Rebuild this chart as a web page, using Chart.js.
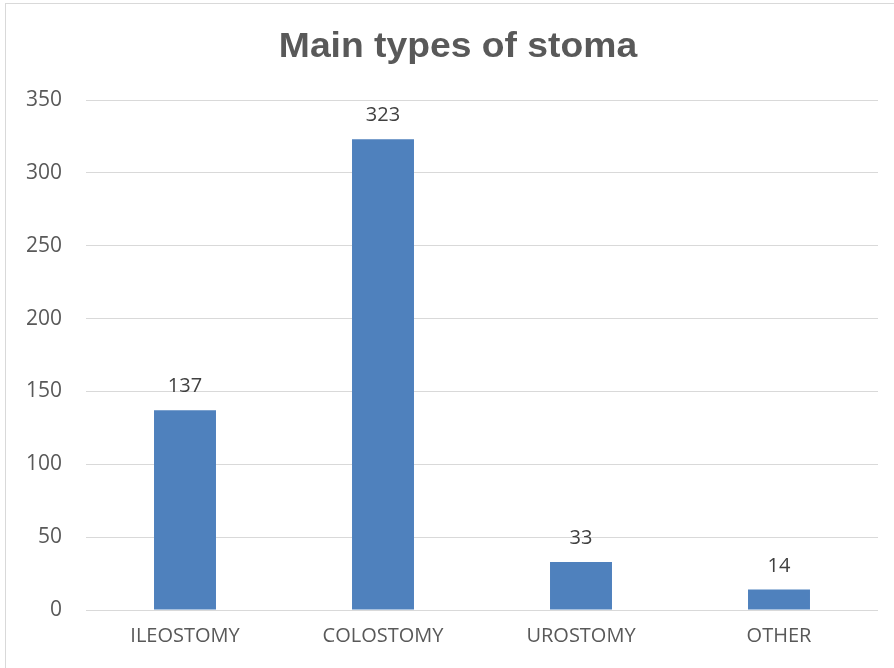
<!DOCTYPE html>
<html>
<head>
<meta charset="utf-8">
<script src="https://cdn.jsdelivr.net/npm/chart.js@4/dist/chart.umd.min.js"></script>
<style>
  html, body { margin: 0; padding: 0; background: #ffffff; }
  #wrap { width: 894px; height: 668px; position: relative; }
</style>
</head>
<body>
<div id="wrap"><canvas id="c" width="894" height="668"></canvas></div>
<script>
// Stoma counts by type
const categories = ['ILEOSTOMY', 'COLOSTOMY', 'UROSTOMY', 'OTHER'];
const counts = [137, 323, 33, 14];
const yTicks = [0, 50, 100, 150, 200, 250, 300, 350];
const chartTitle = 'Main types of stoma';

const FONT = '"Open Sans", "Noto Sans", sans-serif';

// Frame around the chart + title
const framePlugin = {
  id: 'frame',
  beforeDraw(chart) {
    const ctx = chart.ctx;
    ctx.save();
    ctx.fillStyle = '#ffffff';
    ctx.fillRect(0, 0, chart.width, chart.height);
    ctx.strokeStyle = '#D9D9D9';
    ctx.lineWidth = 1;
    ctx.strokeRect(5.5, 3.5, chart.width + 20, chart.height + 20);
    ctx.fillStyle = '#595959';
    ctx.font = 'bold 35px "Liberation Sans", Arial, sans-serif';
    ctx.textAlign = 'center';
    ctx.textBaseline = 'alphabetic';
    ctx.translate(458, 56.5);
    ctx.scale(1.065, 1);
    ctx.fillText(chartTitle, 0, 0);
    ctx.restore();
  }
};

// Value labels above each bar
const valueLabels = {
  id: 'valueLabels',
  afterDatasetsDraw(chart) {
    const ctx = chart.ctx;
    const meta = chart.getDatasetMeta(0);
    ctx.save();
    ctx.fillStyle = '#404040';
    ctx.font = '20px ' + FONT;
    ctx.textAlign = 'center';
    ctx.textBaseline = 'alphabetic';
    meta.data.forEach((bar, i) => {
      ctx.fillText(String(counts[i]), bar.x, bar.y - 18);
    });
    ctx.restore();
  }
};

new Chart(document.getElementById('c'), {
  type: 'bar',
  data: {
    labels: categories,
    datasets: [{
      data: counts,
      backgroundColor: '#4F81BD',
      borderWidth: 0,
      categoryPercentage: 1,
      barPercentage: 0.313
    }]
  },
  options: {
    responsive: false,
    animation: false,
    devicePixelRatio: 1,
    layout: { padding: { top: 100, right: 16, bottom: 0, left: 0 } },
    plugins: {
      legend: { display: false },
      title: { display: false },
      tooltip: { enabled: false }
    },
    scales: {
      x: {
        grid: { display: false, drawTicks: false },
        border: { display: false },
        ticks: { color: '#595959', font: { family: FONT, size: 20 }, padding: 14, maxRotation: 0 },
        afterFit(scale) { scale.height = 58; }
      },
      y: {
        min: 0,
        max: 350,
        afterBuildTicks(scale) { scale.ticks = yTicks.map(v => ({ value: v })); },
        grid: { color: '#D9D9D9', lineWidth: 1, drawTicks: false },
        border: { display: false },
        ticks: { color: '#595959', font: { family: FONT, size: 21 }, padding: 24 },
        afterFit(scale) { scale.width = 86; }
      }
    }
  },
  plugins: [framePlugin, valueLabels]
});
</script>
</body>
</html>
